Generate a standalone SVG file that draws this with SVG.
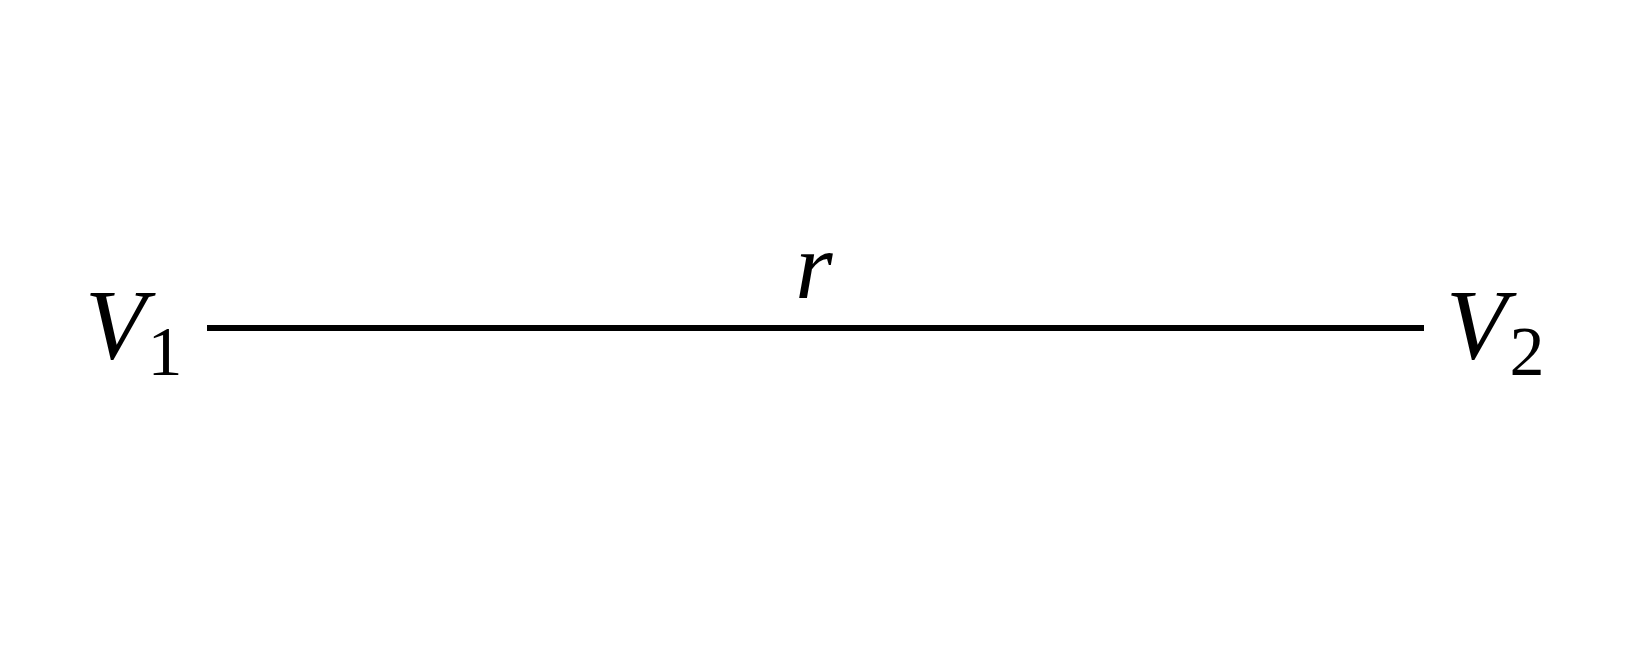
<svg xmlns="http://www.w3.org/2000/svg" width="1626" height="656" viewBox="0 0 1626 656">
<style>
.lbl{font-family:"Liberation Serif","DejaVu Serif",serif;font-style:italic;fill:#000}
.sub{font-family:"Liberation Serif","DejaVu Serif",serif;fill:#000}
.edge{stroke:#000;stroke-width:6;fill:none}
</style>
<rect width="1626" height="656" fill="#fff"/>
<g id="connectors">
<line class="edge" x1="207" y1="328" x2="1424" y2="328"/>
<text class="lbl" x="814" y="298" font-size="96" text-anchor="middle">r</text>
</g>
<g id="v1">
<text class="lbl" x="85" y="358" font-size="100">V</text>
<text class="sub" x="165" y="375" font-size="70" text-anchor="middle">1</text>
</g>
<g id="v2">
<text class="lbl" x="1446" y="358" font-size="100">V</text>
<text class="sub" x="1527" y="375" font-size="70" text-anchor="middle">2</text>
</g>
</svg>
